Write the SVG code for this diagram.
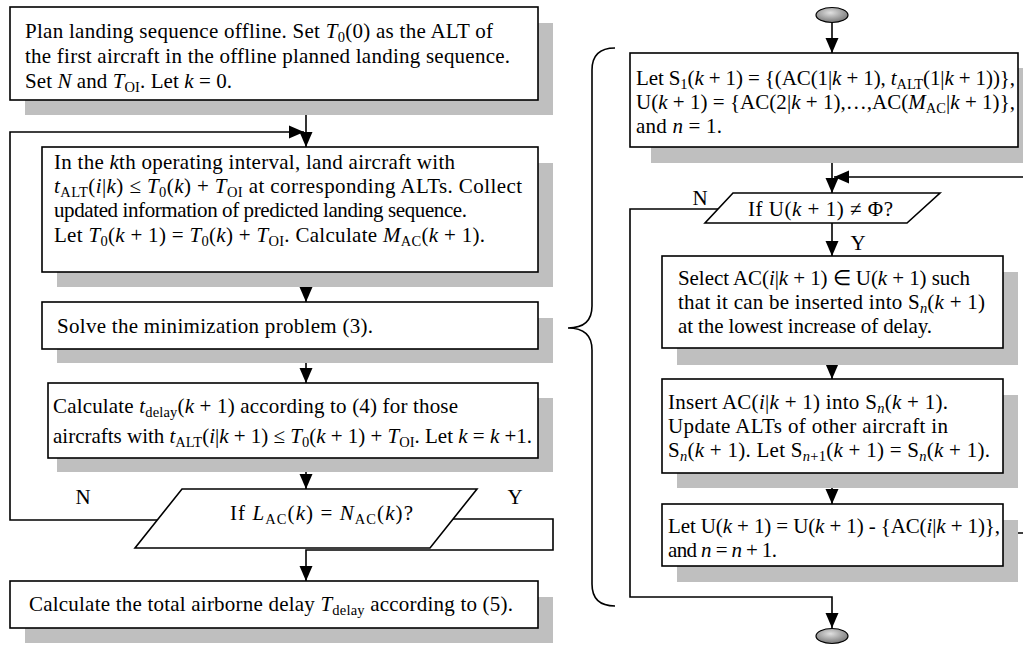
<svg xmlns="http://www.w3.org/2000/svg" width="1023" height="646" viewBox="0 0 1023 646">
<style>
text{font-family:"Liberation Serif","Times New Roman",serif;font-size:21px;fill:#000}
.i{font-style:italic}
.s{font-size:14.5px}
.box{fill:#fff;stroke:#000;stroke-width:1.6}
.sh{fill:#bfbfbf}
.ln{fill:none;stroke:#000;stroke-width:1.6}
</style>
<defs>
<marker id="ah" markerUnits="userSpaceOnUse" markerWidth="16" markerHeight="16" viewBox="0 0 16 16" refX="15" refY="8" orient="auto">
<path d="M0,1.5 L15,8 L0,14.5 Z" fill="#000"/>
</marker>
<radialGradient id="eg" cx="0.45" cy="0.35" r="0.7">
<stop offset="0" stop-color="#e0e0e0"/>
<stop offset="1" stop-color="#6e6e6e"/>
</radialGradient>
</defs>

<g id="connectors">
<line class="ln" x1="306" y1="100" x2="306" y2="147" marker-end="url(#ah)"/>
<path class="ln" d="M157,520 H10 V132 H304" marker-end="url(#ah)"/>
<line class="ln" x1="306" y1="272" x2="306" y2="302" marker-end="url(#ah)"/>
<line class="ln" x1="306" y1="349" x2="306" y2="383" marker-end="url(#ah)"/>
<line class="ln" x1="306" y1="458" x2="306" y2="489" marker-end="url(#ah)"/>
<path class="ln" d="M453,519 H553 V550 H306 V581" marker-end="url(#ah)"/>
<line class="ln" x1="832" y1="22" x2="832" y2="53" marker-end="url(#ah)"/>
<line class="ln" x1="832" y1="147" x2="832" y2="193" marker-end="url(#ah)"/>
<path class="ln" d="M1003,533 H1030 V177 H834" marker-end="url(#ah)"/>
<line class="ln" x1="832" y1="223" x2="832" y2="256" marker-end="url(#ah)"/>
<line class="ln" x1="832" y1="348" x2="832" y2="379" marker-end="url(#ah)"/>
<line class="ln" x1="832" y1="473" x2="832" y2="504" marker-end="url(#ah)"/>
<path class="ln" d="M718,209 H630 V597 H832 V628" marker-end="url(#ah)"/>
<path class="ln" d="M615,48 Q592,48 592,70 V306 Q592,328 568,328 Q592,328 592,350 V584 Q592,606 615,606"/>
<text x="83" y="504" text-anchor="middle">N</text>
<text x="515" y="504" text-anchor="middle">Y</text>
<text x="700" y="205" text-anchor="middle">N</text>
<text x="858" y="250" text-anchor="middle">Y</text>
</g>

<g id="box1">
<rect class="sh" x="25" y="23" width="528" height="92"/>
<rect class="box" x="10" y="7" width="528" height="93"/>
<text x="25" y="38" textLength="468">Plan landing sequence offline. Set <tspan class="i">T</tspan><tspan class="s" dy="4">0</tspan><tspan dy="-4">(0) as the ALT of</tspan></text>
<text x="25" y="63" textLength="485">the first aircraft in the offline planned landing sequence.</text>
<text x="25" y="88" textLength="207">Set <tspan class="i">N</tspan> and <tspan class="i">T</tspan><tspan class="s" dy="4">OI</tspan><tspan dy="-4">. Let </tspan><tspan class="i">k</tspan> = 0.</text>
</g>

<g id="box2">
<rect class="sh" x="57" y="163" width="496" height="124"/>
<rect class="box" x="42" y="147" width="496" height="125"/>
<text x="54" y="169" textLength="401">In the <tspan class="i">k</tspan>th operating interval, land aircraft with</text>
<text x="54" y="193" textLength="468"><tspan class="i">t</tspan><tspan class="s" dy="4">ALT</tspan><tspan dy="-4">(</tspan><tspan class="i">i</tspan>|<tspan class="i">k</tspan>) ≤ <tspan class="i">T</tspan><tspan class="s" dy="4">0</tspan><tspan dy="-4">(</tspan><tspan class="i">k</tspan>) + <tspan class="i">T</tspan><tspan class="s" dy="4">OI</tspan><tspan dy="-4"> at corresponding ALTs. Collect</tspan></text>
<text x="54" y="217" textLength="413">updated information of predicted landing sequence.</text>
<text x="54" y="242" textLength="431">Let <tspan class="i">T</tspan><tspan class="s" dy="4">0</tspan><tspan dy="-4">(</tspan><tspan class="i">k</tspan> + 1) = <tspan class="i">T</tspan><tspan class="s" dy="4">0</tspan><tspan dy="-4">(</tspan><tspan class="i">k</tspan>) + <tspan class="i">T</tspan><tspan class="s" dy="4">OI</tspan><tspan dy="-4">. Calculate </tspan><tspan class="i">M</tspan><tspan class="s" dy="4">AC</tspan><tspan dy="-4">(</tspan><tspan class="i">k</tspan> + 1).</text>
</g>

<g id="box3">
<rect class="sh" x="57" y="318" width="496" height="45"/>
<rect class="box" x="42" y="302" width="496" height="47"/>
<text x="57" y="333" textLength="316">Solve the minimization problem (3).</text>
</g>

<g id="box4">
<rect class="sh" x="57" y="398" width="496" height="74"/>
<rect class="box" x="48" y="383" width="490" height="75"/>
<text x="53" y="413" textLength="405">Calculate <tspan class="i">t</tspan><tspan class="s" dy="4">delay</tspan><tspan dy="-4">(</tspan><tspan class="i">k</tspan> + 1) according to (4) for those</text>
<text x="53" y="443" textLength="479">aircrafts with <tspan class="i">t</tspan><tspan class="s" dy="4">ALT</tspan><tspan dy="-4">(</tspan><tspan class="i">i</tspan>|<tspan class="i">k</tspan> + 1) ≤ <tspan class="i">T</tspan><tspan class="s" dy="4">0</tspan><tspan dy="-4">(</tspan><tspan class="i">k</tspan> + 1) + <tspan class="i">T</tspan><tspan class="s" dy="4">OI</tspan><tspan dy="-4">. Let </tspan><tspan class="i">k</tspan> = <tspan class="i">k</tspan> +1.</text>
</g>

<g id="decision1">
<polygon class="box" points="182,489 477,489 430,548 135,548"/>
<text x="230" y="520" textLength="183">If <tspan class="i">L</tspan><tspan class="s" dy="4">AC</tspan><tspan dy="-4">(</tspan><tspan class="i">k</tspan>) = <tspan class="i">N</tspan><tspan class="s" dy="4">AC</tspan><tspan dy="-4">(</tspan><tspan class="i">k</tspan>)?</text>
</g>

<g id="box5">
<rect class="sh" x="25" y="597" width="528" height="46"/>
<rect class="box" x="10" y="581" width="528" height="47"/>
<text x="29" y="611" textLength="484">Calculate the total airborne delay <tspan class="i">T</tspan><tspan class="s" dy="4">delay</tspan><tspan dy="-4"> according to (5).</tspan></text>
</g>

<g id="start">
<ellipse cx="832" cy="15" rx="16" ry="7.5" fill="url(#eg)" stroke="#000" stroke-width="1.2"/>
</g>

<g id="rbox1">
<rect class="sh" x="651" y="68" width="380" height="95"/>
<rect class="box" x="630" y="53" width="388" height="94"/>
<text x="636" y="85" textLength="379">Let S<tspan class="s" dy="4">1</tspan><tspan dy="-4">(</tspan><tspan class="i">k</tspan> + 1) = {(AC(1|<tspan class="i">k</tspan> + 1), <tspan class="i">t</tspan><tspan class="s" dy="4">ALT</tspan><tspan dy="-4">(1|</tspan><tspan class="i">k</tspan> + 1))},</text>
<text x="636" y="109" textLength="379">U(<tspan class="i">k</tspan> + 1) = {AC(2|<tspan class="i">k</tspan> + 1),…,AC(<tspan class="i">M</tspan><tspan class="s" dy="4">AC</tspan><tspan dy="-4">|</tspan><tspan class="i">k</tspan> + 1)},</text>
<text x="636" y="133" textLength="86">and <tspan class="i">n</tspan> = 1.</text>
</g>

<g id="rdecision">
<polygon class="box" points="733,193 940,193 907,223 705,223"/>
<text x="748" y="216" textLength="145">If U(<tspan class="i">k</tspan> + 1) ≠ Φ?</text>
</g>

<g id="rbox2">
<rect class="sh" x="677" y="272" width="341" height="93"/>
<rect class="box" x="662" y="256" width="341" height="92"/>
<text x="678" y="285" textLength="292">Select AC(<tspan class="i">i</tspan>|<tspan class="i">k</tspan> + 1) ∈ U(<tspan class="i">k</tspan> + 1) such</text>
<text x="678" y="309" textLength="307">that it can be inserted into S<tspan class="s i" dy="4">n</tspan><tspan dy="-4">(</tspan><tspan class="i">k</tspan> + 1)</text>
<text x="678" y="333" textLength="254">at the lowest increase of delay.</text>
</g>

<g id="rbox3">
<rect class="sh" x="677" y="395" width="341" height="93"/>
<rect class="box" x="662" y="379" width="341" height="94"/>
<text x="668" y="409" textLength="280">Insert AC(<tspan class="i">i</tspan>|<tspan class="i">k</tspan> + 1) into S<tspan class="s i" dy="4">n</tspan><tspan dy="-4">(</tspan><tspan class="i">k</tspan> + 1).</text>
<text x="668" y="433" textLength="280">Update ALTs of other aircraft in</text>
<text x="668" y="457" textLength="322">S<tspan class="s i" dy="4">n</tspan><tspan dy="-4">(</tspan><tspan class="i">k</tspan> + 1). Let S<tspan class="s" dy="4"><tspan class="i">n</tspan>+1</tspan><tspan dy="-4">(</tspan><tspan class="i">k</tspan> + 1) = S<tspan class="s i" dy="4">n</tspan><tspan dy="-4">(</tspan><tspan class="i">k</tspan> + 1).</text>
</g>

<g id="rbox4">
<rect class="sh" x="677" y="520" width="341" height="62"/>
<rect class="box" x="662" y="504" width="341" height="62"/>
<text x="668" y="533" textLength="332">Let U(<tspan class="i">k</tspan> + 1) = U(<tspan class="i">k</tspan> + 1) - {AC(<tspan class="i">i</tspan>|<tspan class="i">k</tspan> + 1)},</text>
<text x="668" y="557" textLength="109">and <tspan class="i">n</tspan> = <tspan class="i">n</tspan> + 1.</text>
</g>

<g id="end">
<ellipse cx="832" cy="636" rx="16" ry="7.5" fill="url(#eg)" stroke="#000" stroke-width="1.2"/>
</g>
</svg>
